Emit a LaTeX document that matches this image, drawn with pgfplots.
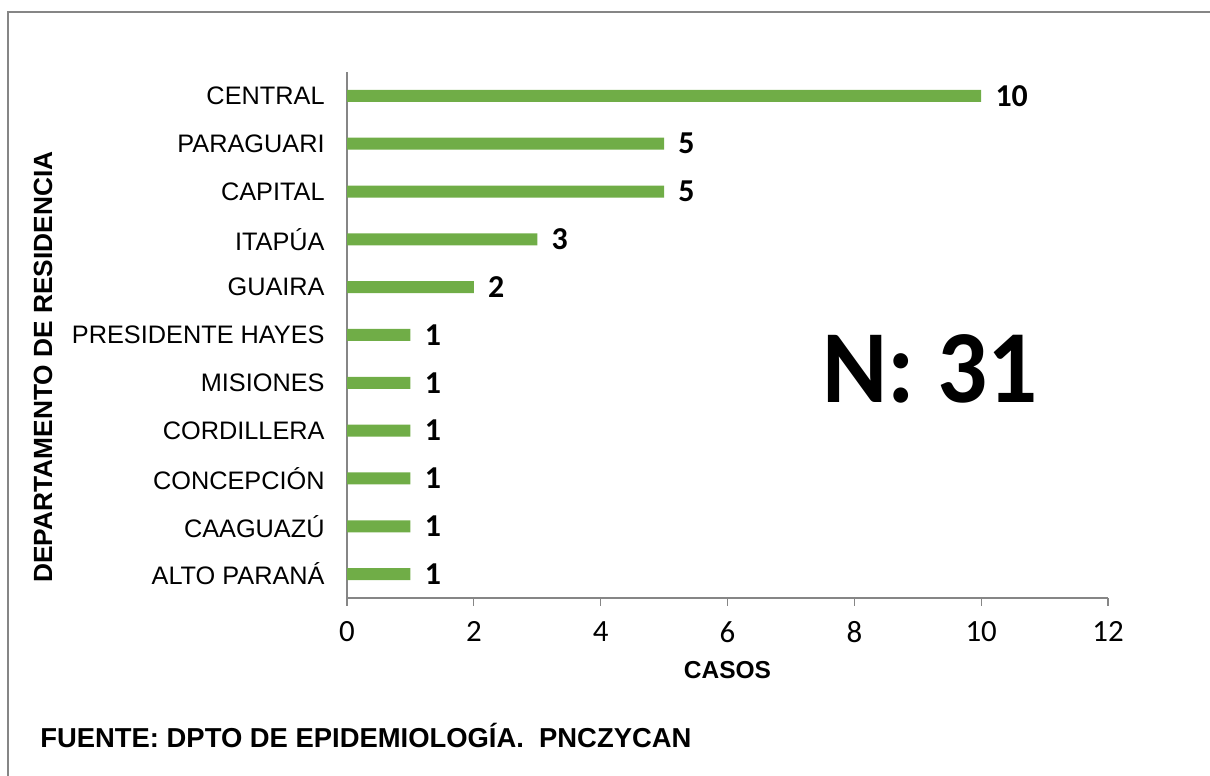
\documentclass[border=0pt]{standalone}
\usepackage{pgfplots}
\pgfplotsset{compat=1.18}
\usepackage{fontspec}
\setmainfont{Liberation Sans}
\newfontfamily\calibri{Carlito}
\definecolor{barGreen}{HTML}{70AD47}
\definecolor{axGray}{HTML}{868686}

\begin{document}
\begin{tikzpicture}
\path[use as bounding box] (0,0) rectangle (605bp,388bp);
\draw[axGray, line width=1bp] (4bp,0) -- (4bp,382bp) -- (605bp,382bp);
\begin{axis}[
  at={(173.5bp,89bp)}, anchor=south west,
  scale only axis, width=380.5bp, height=263bp,
  xbar, bar width=6bp,
  xmin=0, xmax=12, xtick={0,2,...,12},
  ymin=-0.5, ymax=10.5, ytick={0,...,10},
  yticklabels={ALTO PARANÁ, CAAGUAZÚ, CONCEPCIÓN, CORDILLERA, MISIONES,
    PRESIDENTE HAYES, GUAIRA, ITAPÚA, CAPITAL, PARAGUARI, CENTRAL},
  axis x line*=bottom, axis y line*=left,
  axis line style={axGray, line width=0.6bp},
  tick align=outside, major tick length=4bp,
  xtick style={axGray, line width=0.6bp}, ytick style={draw=none},
  /pgf/number format/assume math mode=true,
  xticklabel style={font=\calibri\fontsize{15.5}{17}\selectfont, inner sep=0pt, yshift=-7.5bp},
  yticklabel style={font=\fontsize{12.7}{15}\selectfont, inner sep=0pt, xshift=-7bp},
  xlabel={CASOS},
  xlabel style={font=\bfseries\fontsize{12.3}{14}\selectfont, at={(axis description cs:0.5,0)}, anchor=center, yshift=-36bp},
  ylabel={DEPARTAMENTO DE RESIDENCIA},
  ylabel style={font=\bfseries\fontsize{13.2}{15}\selectfont, at={(axis description cs:-0.3995,0.439)}, anchor=center},
  nodes near coords,
  nodes near coords style={font=\calibri\bfseries\fontsize{16}{18}\selectfont, anchor=west, inner sep=0pt, xshift=7bp},
]
\addplot[fill=barGreen, draw=none] coordinates
 {(1,0) (1,1) (1,2) (1,3) (1,4) (1,5) (2,6) (3,7) (5,8) (5,9) (10,10)};
\end{axis}
\node[font=\calibri\bfseries\fontsize{52}{56}\selectfont, inner sep=0pt, xscale=0.955] at (465bp,203.5bp) {N: 31};
\node[font=\bfseries\fontsize{13.75}{16}\selectfont, anchor=west, inner sep=0pt] at (20bp,20.5bp) {FUENTE: DPTO DE EPIDEMIOLOGÍA.\ \ PNCZYCAN};
\end{tikzpicture}
\end{document}
